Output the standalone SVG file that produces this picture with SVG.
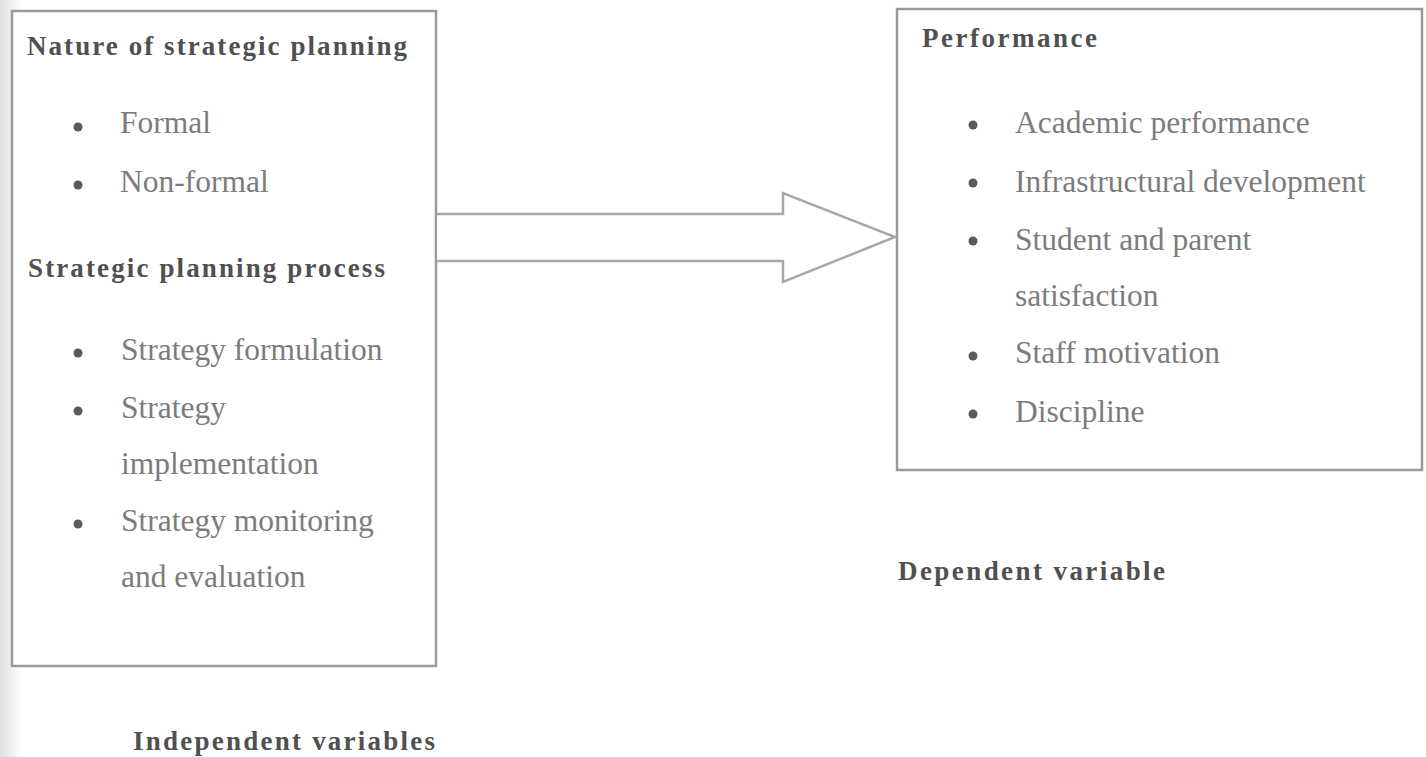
<svg xmlns="http://www.w3.org/2000/svg" width="1426" height="757" viewBox="0 0 1426 757">
  <defs>
    <linearGradient id="edgeShade" x1="0" y1="0" x2="1" y2="0">
      <stop offset="0" stop-color="#e0e0e0"/>
      <stop offset="1" stop-color="#ffffff"/>
    </linearGradient>
  </defs>
  <style>
    .box { fill: #ffffff; stroke: #9a9a9a; stroke-width: 2.5; }
    .conn { fill: #ffffff; stroke: #a8a8a8; stroke-width: 2.5; stroke-linejoin: miter; }
    .head { font-family: "Liberation Serif", "Times New Roman", serif; font-weight: bold; font-size: 27px; fill: #505050; }
    .item { font-family: "Liberation Serif", "Times New Roman", serif; font-size: 31.5px; fill: #7c7c7c; }
    .dot { fill: #5a5a5a; }
  </style>

  <rect x="0" y="0" width="1426" height="757" fill="#ffffff"/>
  <rect x="0" y="0" width="22" height="757" fill="url(#edgeShade)"/>

  <!-- independent variables box -->
  <g id="independent">
    <rect class="box" x="12" y="11" width="424" height="655"/>
    <text class="head" x="27" y="55" textLength="380" lengthAdjust="spacing">Nature of strategic planning</text>
    <circle class="dot" cx="78" cy="127" r="4.5"/>
    <text class="item" x="120" y="133">Formal</text>
    <circle class="dot" cx="78" cy="185" r="4.5"/>
    <text class="item" x="120" y="192">Non-formal</text>
    <text class="head" x="28" y="277" textLength="357" lengthAdjust="spacing">Strategic planning process</text>
    <circle class="dot" cx="78" cy="353" r="4.5"/>
    <text class="item" x="121" y="360">Strategy formulation</text>
    <circle class="dot" cx="78" cy="411" r="4.5"/>
    <text class="item" x="121" y="418">Strategy</text>
    <text class="item" x="121" y="474">implementation</text>
    <circle class="dot" cx="78" cy="524" r="4.5"/>
    <text class="item" x="121" y="531">Strategy monitoring</text>
    <text class="item" x="121" y="587">and evaluation</text>
  </g>

  <g id="independent-label">
    <text class="head" x="133" y="750" textLength="302" lengthAdjust="spacing">Independent variables</text>
  </g>

  <!-- dependent variable box -->
  <g id="dependent">
    <rect class="box" x="897" y="9" width="525" height="461"/>
    <text class="head" x="922" y="47" textLength="175" lengthAdjust="spacing">Performance</text>
    <circle class="dot" cx="973" cy="125" r="4.5"/>
    <text class="item" x="1015" y="133">Academic performance</text>
    <circle class="dot" cx="973" cy="183" r="4.5"/>
    <text class="item" x="1015" y="192">Infrastructural development</text>
    <circle class="dot" cx="973" cy="241" r="4.5"/>
    <text class="item" x="1015" y="250">Student and parent</text>
    <text class="item" x="1015" y="306">satisfaction</text>
    <circle class="dot" cx="973" cy="356" r="4.5"/>
    <text class="item" x="1015" y="363">Staff motivation</text>
    <circle class="dot" cx="973" cy="414" r="4.5"/>
    <text class="item" x="1015" y="422">Discipline</text>
  </g>

  <g id="dependent-label">
    <text class="head" x="898" y="580" textLength="267" lengthAdjust="spacing">Dependent variable</text>
  </g>

  <!-- block arrow from independent to dependent -->
  <g id="connectors">
    <path class="conn" d="M437,214 L783,214 L783,193 L895,237 L783,282 L783,261 L437,261"/>
  </g>
</svg>
